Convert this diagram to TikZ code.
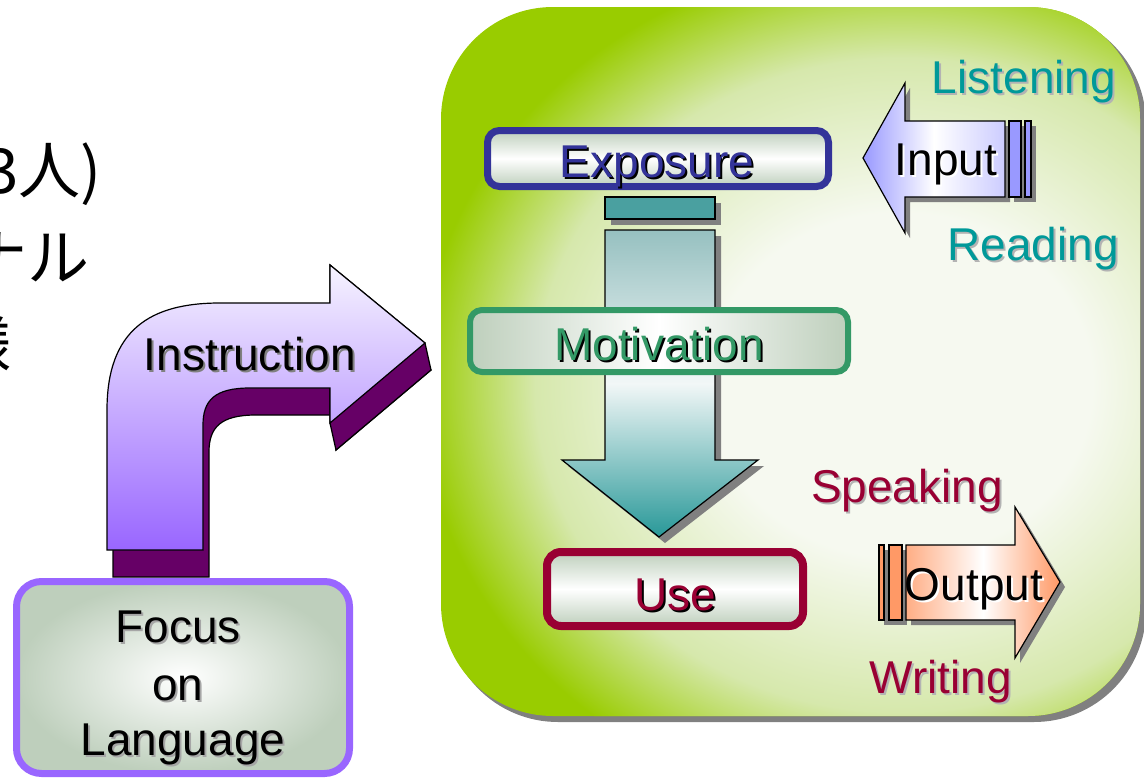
\documentclass[tikz,border=0pt]{standalone}
\usepackage{fontspec}
\setmainfont{Liberation Sans}
\newfontfamily\cjkfont{Noto Sans CJK JP}
\definecolor{lime}{RGB}{153,204,0}
\definecolor{limein}{RGB}{246,249,240}
\definecolor{limemid}{RGB}{214,232,172}
\definecolor{expblue}{RGB}{51,51,153}
\definecolor{motgreen}{RGB}{51,153,102}
\definecolor{usered}{RGB}{153,0,51}
\definecolor{tealtxt}{RGB}{0,153,153}
\definecolor{boxgrey}{RGB}{190,207,188}
\definecolor{lav}{RGB}{153,153,255}
\definecolor{salmon}{RGB}{255,153,102}
\definecolor{purp}{RGB}{102,0,102}
\definecolor{violetb}{RGB}{153,102,255}
\definecolor{tealbar}{RGB}{74,160,160}
\definecolor{tealtop}{RGB}{150,192,192}
\definecolor{tealbot}{RGB}{40,152,152}
\definecolor{shad}{RGB}{128,128,128}
\pgfdeclareradialshading{glow}{\pgfpoint{0bp}{0bp}}{color(0bp)=(limein); color(10bp)=(limein); color(19bp)=(limemid); color(25bp)=(lime); color(50bp)=(lime)}
\tikzset{
  lbl/.style={font=\fontsize{46}{55}\selectfont, inner sep=0pt, anchor=base},
  cjk/.style={font=\cjkfont\fontsize{62}{70}\selectfont, inner sep=0pt, anchor=base east},
  shadowfill/.style={fill=shad, draw=none},
  outl/.style={draw=black, line width=1.2pt},
}
\newcommand{\stxt}[6]{%
  \node[lbl, text=#5] (#1s) at (#2+2,#3+2) {#6};
  \node[lbl, text=#4] (#1) at (#2,#3) {#6};}
\begin{document}
\begin{tikzpicture}[x=1pt,y=-1pt]
\useasboundingbox (0,0) rectangle (1144,779);
\clip (0,0) rectangle (1144,779);

% left CJK fragments (cut off at the left edge, as in the reference)
\node[cjk] (cjka) at (102,193) {3人)};
\node[cjk] (cjkb) at (90,280) {ナル};
\node[cjk] (cjkc) at (12,368) {様};

% green panel
\fill[shad, rounded corners=112pt] (446,12) rectangle (1146,722);
\fill[lime, rounded corners=112pt] (441,7) rectangle (1140,716);
\begin{scope}
  \clip[rounded corners=112pt] (441,7) rectangle (1140,716);
  \shade[shading=glow] (900,385) ellipse [x radius=480pt, y radius=430pt];
\end{scope}

% Instruction bent arrow: extrusion
\begin{scope}[shift={(6,27)}]
  \filldraw[fill=purp, outl] (107,550) -- (107,410) .. controls (107,330) and (150,303) .. (220,303) -- (330,303) -- (330,265) -- (425,343) -- (330,423) -- (330,388) -- (250,388) .. controls (215,388) and (203,400) .. (203,425) -- (203,550) -- cycle;
\end{scope}
\filldraw[fill=purp, outl] (330,265) -- (425,343) -- (431,370) -- (336,450) -- (330,423) -- cycle;
\shade[top color={rgb,255:red,246;green,243;blue,255}, bottom color=violetb, outl] (107,550) -- (107,410) .. controls (107,330) and (150,303) .. (220,303) -- (330,303) -- (330,265) -- (425,343) -- (330,423) -- (330,388) -- (250,388) .. controls (215,388) and (203,400) .. (203,425) -- (203,550) -- cycle;
\stxt{instr}{250}{370}{black}{shad}{Instruction}

% Focus on Language box
\shade[inner color=white, outer color=boxgrey, draw=violetb, line width=7pt, rounded corners=25pt] (16.5,581.5) rectangle (349.5,773.5);
\stxt{focus}{178}{642}{black}{shad!70}{Focus}
\stxt{on}{178}{700}{black}{shad!70}{on}
\stxt{lang}{183}{755}{black}{shad!70}{Language}

% down arrow with bar
\fill[shadowfill] (611,203) rectangle (721,225);
\fill[shadowfill] (611,236) -- (721,236) -- (721,466) -- (764,466) -- (665,543) -- (568,466) -- (611,466) -- cycle;
\filldraw[fill=tealbar, outl] (605,197) rectangle (715,219);
\shade[top color=tealtop, bottom color=tealbot, middle color={rgb,255:red,242;green,247;blue,247}, outl] (605,230) -- (715,230) -- (715,460) -- (758,460) -- (659,537) -- (562,460) -- (605,460) -- cycle;

% Exposure box
\shade[top color=boxgrey, bottom color=boxgrey, middle color=white, draw=expblue, line width=7pt, rounded corners=12pt] (487.5,130.5) rectangle (828.5,186.5);
\stxt{expo}{657}{177}{expblue}{black}{Exposure}

% Motivation box
\shade[left color=boxgrey, right color=boxgrey, middle color=white, draw=motgreen, line width=6pt, rounded corners=12pt] (470,310) rectangle (848,372);
\stxt{moti}{659}{360}{motgreen}{black}{Motivation}

% Use box
\shade[top color=boxgrey, bottom color=boxgrey, middle color=white, draw=usered, line width=8pt, rounded corners=14pt] (547,552) rectangle (803,626);
\stxt{use}{675}{610}{usered}{black}{Use}

% Input arrow
\fill[shadowfill] (868,163) -- (910,88) -- (910,126) -- (1010,126) -- (1010,202) -- (910,202) -- (910,238) -- cycle;
\fill[shadowfill] (1014,126) rectangle (1036,202);
\shade[left color=lav, right color=lav!50, middle color=white, outl] (863,158) -- (905,83) -- (905,121) -- (1005,121) -- (1005,197) -- (905,197) -- (905,233) -- cycle;
\filldraw[fill=lav, outl] (1009,121) rectangle (1021,197);
\filldraw[fill=lav, outl] (1025,121) rectangle (1031,197);
\stxt{input}{946}{175}{black}{white}{Input}

% Output arrow
\fill[shadowfill] (884,550) rectangle (907,625);
\fill[shadowfill] (911,550) -- (1020,550) -- (1020,512) -- (1065,587) -- (1020,663) -- (1020,625) -- (911,625) -- cycle;
\filldraw[fill=salmon, outl] (879,545) rectangle (884,620);
\filldraw[fill=salmon, outl] (889,545) rectangle (902,620);
\shade[left color=salmon!80, right color=salmon, middle color=white, outl] (906,545) -- (1015,545) -- (1015,507) -- (1060,582) -- (1015,658) -- (1015,620) -- (906,620) -- cycle;
\stxt{output}{974}{600}{black}{white}{Output}

% skill labels
\stxt{listen}{1024}{93}{tealtxt}{shad!60}{Listening}
\stxt{read}{1033}{260}{tealtxt}{shad!60}{Reading}
\stxt{speak}{907}{502}{usered}{shad!60}{Speaking}
\stxt{write}{941}{693}{usered}{shad!60}{Writing}
\end{tikzpicture}
\end{document}
